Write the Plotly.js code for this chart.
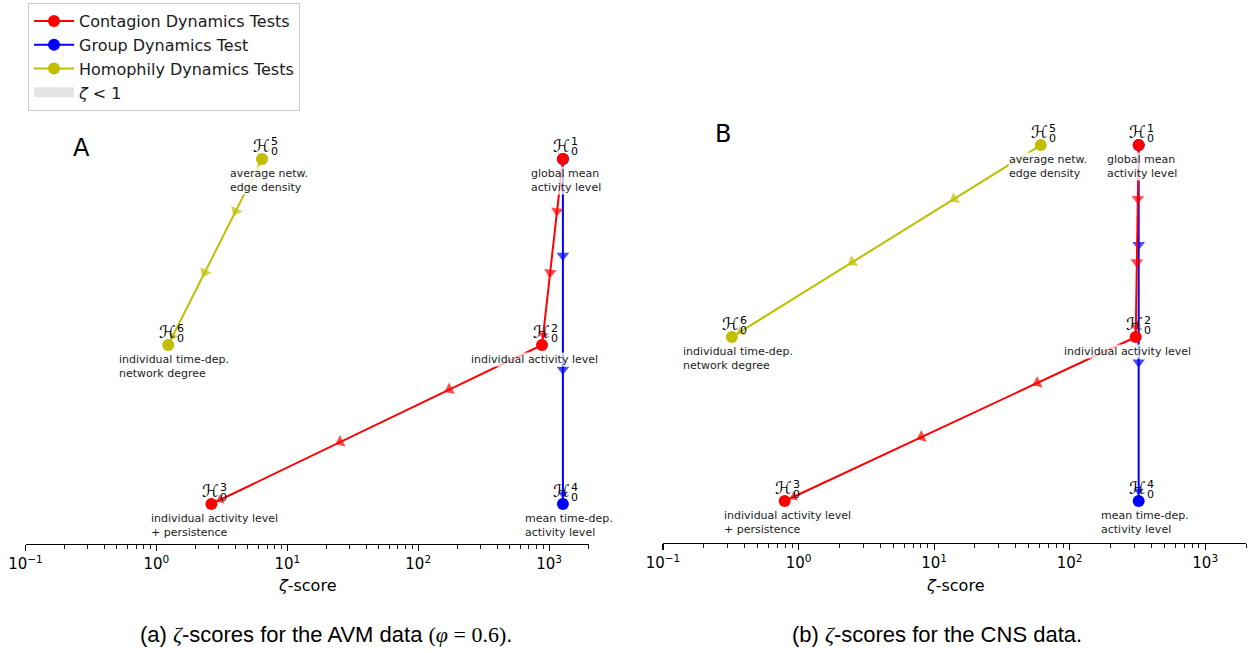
<!DOCTYPE html>
<html><head><meta charset="utf-8">
<script src="https://cdn.plot.ly/plotly-3.0.1.min.js"></script>
<style>html,body{margin:0;padding:0;background:#fff}</style>
</head><body><div id="chart" style="width:1254px;height:653px"></div>
<script>
// ---------------- data ----------------
const hypothesisIndex = [1, 2, 3, 4, 5, 6];
const descriptions = [
  'global mean<br>activity level',
  'individual activity level',
  'individual activity level<br>+ persistence',
  'mean time-dep.<br>activity level',
  'average netw.<br>edge density',
  'individual time-dep.<br>network degree'
];
const hypothesisLevel = [2.17, 1, 0, 0, 2.17, 1];
const zetaAVM = [1275, 883, 2.63, 1275, 6.41, 1.23];
const zetaCNS = [323, 307, 0.79, 323, 61.2, 0.322];
const groupNames = ['Contagion Dynamics Tests', 'Group Dynamics Test', 'Homophily Dynamics Tests'];
const groupPaths = [[0, 1, 2], [0, 3], [4, 5]];
const fillName = '<i>ζ</i> < 1';
const fillBandX = [0.1, 1];
const xTickVals = [0.1, 1, 10, 100, 1000];
const xTickText = ['10<sup>−1</sup>', '10<sup>0</sup>', '10<sup>1</sup>', '10<sup>2</sup>', '10<sup>3</sup>'];
const xLimits = [0.1, 2000];
const panelLetters = ['A', 'B'];
const captions = [
  '(a) <span style="font-family:Liberation Serif"><i>ζ</i></span>-scores for the AVM data <span style="font-family:Liberation Serif">(<i>φ</i> = 0.6)</span>.',
  '(b) <span style="font-family:Liberation Serif"><i>ζ</i></span>-scores for the CNS data.'
];
const axisTitle = '<i>ζ</i>-score';

// ---------------- styles / geometry ----------------
const W = 1254, H = 653;
const colors = ['#ff0000', '#0000ff', '#bfbf00'];
const drawOrder = [1, 0, 2];           // blue under red, olive last
const descShift = [3, -8, 3, 6, 7, 6];
const panels = [
  {data: zetaAVM, x0: 25.5, x1: 588.5, yBase: 504, unit: 159, axisPx: 544, topPx: 100, letter: [81, 148], cap: 326},
  {data: zetaCNS, x0: 663, x1: 1246, yBase: 501, unit: 164, axisPx: 543, topPx: 100, letter: [723, 134], cap: 937}
];
const L0 = Math.log10(xLimits[0]), L1 = Math.log10(xLimits[1]);

function toPx(p, z, lev) {
  return [p.x0 + (Math.log10(z) - L0) / (L1 - L0) * (p.x1 - p.x0), p.yBase - lev * p.unit];
}

const traces = [];
const annotations = [];
const layout = {
  width: W, height: H,
  margin: {l: 0, r: 0, t: 0, b: 0},
  paper_bgcolor: '#fff', plot_bgcolor: 'rgba(0,0,0,0)',
  font: {family: 'DejaVu Sans', color: '#000'},
  showlegend: true,
  legend: {
    x: 28 / W, y: 1 - 3 / H, xanchor: 'left', yanchor: 'top',
    bgcolor: '#fff', bordercolor: '#cccccc', borderwidth: 1,
    font: {family: 'DejaVu Sans', size: 16, color: '#1a1a1a'},
    itemwidth: 40, tracegroupgap: 0, traceorder: 'normal'
  },
  annotations: annotations
};

const minorVals = [];
for (let d = -1; d <= 3; d++) for (let k = 2; k <= 9; k++) {
  const v = k * Math.pow(10, d);
  if (v <= xLimits[1] * 1.0001) minorVals.push(v);
}

panels.forEach((p, pi) => {
  const xa = pi === 0 ? 'x' : 'x2', ya = pi === 0 ? 'y' : 'y2';
  const xKey = pi === 0 ? 'xaxis' : 'xaxis2', yKey = pi === 0 ? 'yaxis' : 'yaxis2';
  layout[xKey] = {
    type: 'log', range: [L0, L1], domain: [p.x0 / W, p.x1 / W], anchor: ya,
    showline: true, linecolor: '#000', linewidth: 1.1, mirror: false,
    ticks: 'outside', ticklen: 6, tickwidth: 1.1, tickcolor: '#000',
    tickmode: 'array', tickvals: xTickVals, ticktext: xTickText,
    tickfont: {family: 'DejaVu Sans', size: 15, color: '#000'},
    minor: {tickmode: 'array', tickvals: minorVals, ticks: 'outside', ticklen: 3.5, tickwidth: 0.9, tickcolor: '#000', showgrid: false},
    showgrid: false, zeroline: false, fixedrange: true, automargin: false
  };
  const yMin = -(p.axisPx - p.yBase) / p.unit, yMax = (p.yBase - p.topPx) / p.unit;
  layout[yKey] = {
    visible: false, range: [yMin, yMax],
    domain: [(H - p.axisPx) / H, (H - p.topPx) / H], anchor: xa, fixedrange: true
  };

  drawOrder.forEach(g => {
    const path = groupPaths[g];
    for (let e = 0; e < path.length - 1; e++) {
      const a = path[e], b = path[e + 1];
      const la = Math.log10(p.data[a]), lb = Math.log10(p.data[b]);
      const ya0 = hypothesisLevel[a], yb0 = hypothesisLevel[b];
      const pa = toPx(p, p.data[a], ya0), pb = toPx(p, p.data[b], yb0);
      const lenPx = Math.hypot(pb[0] - pa[0], pb[1] - pa[1]);
      const fr = [0, 0.28, 0.61, 1 - 10 / lenPx];
      traces.push({
        type: 'scatter', mode: 'markers', xaxis: xa, yaxis: ya, showlegend: false, hoverinfo: 'skip',
        x: fr.map(f => Math.pow(10, la + f * (lb - la))),
        y: fr.map(f => ya0 + f * (yb0 - ya0)),
        marker: {symbol: 'triangle-up', size: [0, 11, 11, 9], angleref: 'previous', color: colors[g], line: {width: 0}}
      });
    }
    traces.push({
      type: 'scatter', mode: 'lines+markers', xaxis: xa, yaxis: ya,
      name: groupNames[g], legendgroup: 'g' + g, legendrank: g + 1, showlegend: pi === 0,
      x: path.map(i => p.data[i]), y: path.map(i => hypothesisLevel[i]),
      line: {color: colors[g], width: 2},
      marker: {color: colors[g], size: 12, line: {width: 0}}
    });
  });

  p.data.forEach((z, i) => {
    const lx = Math.log10(z), ly = hypothesisLevel[i];
    annotations.push({xref: xa, yref: ya, x: lx, y: ly, text: 'ℋ', showarrow: false,
      xanchor: 'center', yanchor: 'middle', yshift: 13, xshift: -1,
      font: {family: 'DejaVu Sans', size: 17, color: '#000'}});
    annotations.push({xref: xa, yref: ya, x: lx, y: ly, text: String(hypothesisIndex[i]), showarrow: false,
      xanchor: 'center', yanchor: 'middle', yshift: 17, xshift: 12,
      font: {family: 'DejaVu Sans', size: 11, color: '#000'}});
    annotations.push({xref: xa, yref: ya, x: lx, y: ly, text: '0', showarrow: false,
      xanchor: 'center', yanchor: 'middle', yshift: 7, xshift: 12,
      font: {family: 'DejaVu Sans', size: 11, color: '#000'}});
    annotations.push({xref: xa, yref: ya, x: lx, y: ly, text: descriptions[i], showarrow: false,
      xanchor: 'center', yanchor: 'top', yshift: -7, xshift: descShift[i], align: 'left',
      bgcolor: 'rgba(255,255,255,0.75)', borderpad: 0,
      font: {family: 'DejaVu Sans', size: 11, color: '#222'}});
  });

  annotations.push({xref: 'paper', yref: 'paper', x: p.letter[0] / W, y: 1 - p.letter[1] / H,
    text: panelLetters[pi], showarrow: false, xanchor: 'center', yanchor: 'middle',
    font: {family: 'DejaVu Sans', size: 24, color: '#000'}});
  annotations.push({xref: 'paper', yref: 'paper', x: (p.x0 + p.x1) / 2 / W, y: 1 - 585 / H,
    text: axisTitle, showarrow: false, xanchor: 'center', yanchor: 'middle',
    font: {family: 'DejaVu Sans', size: 16, color: '#000'}});
  annotations.push({xref: 'paper', yref: 'paper', x: p.cap / W, y: 1 - 634 / H,
    text: captions[pi], showarrow: false, xanchor: 'center', yanchor: 'middle',
    font: {family: 'Liberation Sans', size: 22, color: '#000'}});
});

// ζ < 1 patch: drawn below the visible y-range, so only its legend swatch shows (as in the reference)
traces.push({type: 'scatter', mode: 'lines', x: fillBandX, y: [-5, -5],
  line: {color: '#e5e5e5', width: 14},
  name: fillName, legendrank: 4, showlegend: true, xaxis: 'x', yaxis: 'y', hoverinfo: 'skip'});

Plotly.newPlot('chart', traces, layout, {displayModeBar: false, staticPlot: true});
</script></body></html>
